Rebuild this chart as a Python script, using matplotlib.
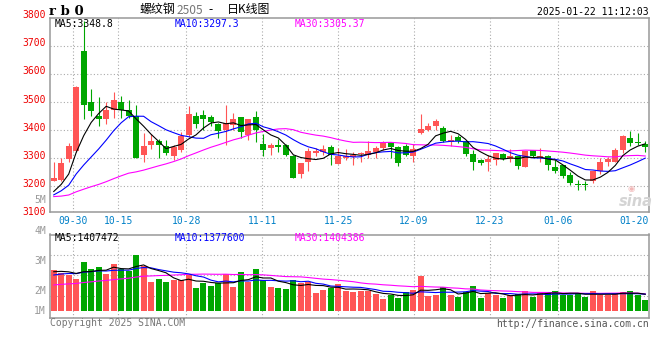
import matplotlib
matplotlib.use("agg")
import matplotlib.pyplot as plt
import matplotlib.transforms as mtransforms
import numpy as np
import pandas as pd

plt.rcParams['font.family'] = ['DejaVu Sans Mono', 'Noto Sans CJK SC']

# closes / volumes before the visible window, only used to warm up the moving averages
prev_close = [3230, 3225, 3215, 3210, 3200, 3195, 3185, 3180, 3170, 3165, 3160, 3155, 3134,
              3120, 3105, 3095, 3100, 3110, 3118, 3128,
              3135, 3145, 3155, 3170, 3180,
              3155, 3160, 3170, 3190]
prev_volume = [1.70, 1.85, 1.60, 1.75, 1.80, 1.65, 1.70, 1.90, 1.72, 1.68, 1.75, 1.66, 1.75,
               1.80, 1.95, 1.75, 1.85, 1.90, 1.84, 1.90,
               2.40, 2.60, 2.85, 2.90, 3.10,
               3.10, 3.25, 3.40, 3.42]

# daily candles 2024-09-25 .. 2025-01-22
opens = [3220, 3223, 3298, 3324, 3684, 3500, 3452, 3441, 3473, 3500,
         3473, 3452, 3312, 3348, 3360, 3345, 3306, 3330, 3381, 3452,
         3455, 3448, 3422, 3402, 3420, 3448, 3381, 3448, 3352, 3336,
         3348, 3348, 3306, 3243, 3286, 3318, 3322, 3340, 3279, 3302,
         3303, 3315, 3310, 3321, 3336, 3356, 3339, 3345, 3306, 3391,
         3402, 3414, 3408, 3356, 3374, 3362, 3315, 3292, 3286, 3292,
         3315, 3298, 3309, 3267, 3330, 3305, 3309, 3267, 3274, 3241,
         3208, 3208, 3217, 3253, 3286, 3288, 3330, 3372, 3358, 3350]
highs = [3288, 3300, 3354, 3557, 3790, 3548, 3517, 3500, 3537, 3521,
         3506, 3491, 3390, 3386, 3370, 3366, 3348, 3393, 3485, 3464,
         3473, 3455, 3426, 3489, 3461, 3448, 3441, 3470, 3386, 3354,
         3368, 3351, 3312, 3282, 3336, 3336, 3348, 3348, 3336, 3334,
         3322, 3322, 3360, 3342, 3362, 3356, 3342, 3351, 3351, 3459,
         3426, 3441, 3416, 3384, 3384, 3366, 3330, 3298, 3312, 3318,
         3318, 3334, 3309, 3324, 3330, 3336, 3312, 3294, 3277, 3250,
         3223, 3219, 3253, 3300, 3303, 3336, 3381, 3396, 3390, 3360]
lows = [3217, 3217, 3288, 3322, 3438, 3450, 3414, 3422, 3443, 3443,
        3443, 3300, 3285, 3334, 3300, 3310, 3292, 3322, 3374, 3408,
        3402, 3416, 3372, 3346, 3402, 3372, 3366, 3356, 3306, 3310,
        3322, 3306, 3229, 3229, 3255, 3306, 3312, 3274, 3279, 3295,
        3274, 3286, 3300, 3300, 3330, 3300, 3271, 3309, 3288, 3386,
        3396, 3402, 3356, 3342, 3354, 3306, 3259, 3274, 3255, 3274,
        3294, 3288, 3262, 3267, 3303, 3286, 3259, 3247, 3229, 3205,
        3185, 3187, 3211, 3244, 3271, 3286, 3318, 3342, 3346, 3322]
closes = [3231, 3282, 3344, 3555, 3489, 3467, 3441, 3473, 3506, 3473,
          3449, 3300, 3342, 3362, 3348, 3318, 3339, 3378, 3458, 3422,
          3441, 3429, 3396, 3426, 3438, 3393, 3441, 3402, 3330, 3348,
          3339, 3312, 3231, 3282, 3327, 3324, 3334, 3310, 3306, 3306,
          3312, 3318, 3324, 3336, 3356, 3339, 3282, 3312, 3333, 3405,
          3416, 3432, 3360, 3366, 3362, 3315, 3288, 3282, 3297, 3318,
          3298, 3309, 3271, 3324, 3309, 3307, 3274, 3253, 3237, 3213,
          3205, 3203, 3253, 3288, 3297, 3330, 3378, 3354, 3355, 3339]
# volume, millions of lots
volumes = [3.48, 3.25, 3.05, 2.71, 4.16, 3.56, 3.74, 3.14, 3.99, 3.56,
           3.42, 4.76, 3.82, 2.45, 2.71, 2.45, 2.62, 2.62, 3.05, 1.94,
           2.34, 2.11, 2.34, 3.14, 2.03, 3.31, 2.45, 3.56, 2.62, 2.03,
           1.94, 1.85, 2.62, 2.34, 2.45, 1.54, 1.77, 1.94, 2.28, 1.68,
           1.60, 1.68, 1.68, 1.43, 1.00, 1.34, 1.09, 1.60, 1.77, 2.97,
           1.26, 1.34, 2.03, 1.34, 1.17, 1.60, 2.11, 1.09, 1.51, 1.34,
           1.09, 1.34, 1.43, 1.68, 1.17, 1.51, 1.60, 1.68, 1.34, 1.34,
           1.51, 1.17, 1.68, 1.34, 1.34, 1.51, 1.60, 1.68, 1.34, 0.91]

tick_idx = [3, 9, 18, 28, 38, 48, 58, 67, 77]
tick_labels = ['09-30', '10-15', '10-28', '11-11', '11-25', '12-09', '12-23', '01-06', '01-20']
price_labels = [3800, 3700, 3600, 3500, 3400, 3300, 3200, 3100]
vol_labels = ['5M', '4M', '3M', '2M', '1M']

RED = '#ff5555'
GREEN = '#00a600'
GRID = dict(color='#aaaaaa', linestyle=(0, (1, 2)), linewidth=0.8)


def px(x, y):
    return x / 660, 1 - y / 360


n = len(closes)
x = np.arange(n)
o = np.array(opens)
c = np.array(closes)
up = c >= o
colors = np.where(up, RED, GREEN)

cl = pd.Series(prev_close + closes)
vo = pd.Series(prev_volume + volumes)
k = len(prev_close)
ma_p = {w: cl.rolling(w).mean().to_numpy()[k:] for w in (5, 10, 30)}
ma_v = {w: vo.rolling(w).mean().to_numpy()[k:] for w in (5, 10, 30)}
ma_colors = {5: 'black', 10: '#0000ff', 30: '#ff00ff'}

# sina spaces the date grid over n-1 steps
tick_pos = -0.5 + np.array(tick_idx) * n / (n - 1)

fig = plt.figure(figsize=(6.6, 3.6), dpi=100)
ax = fig.add_axes([50 / 660, 1 - 212.3 / 360, 599 / 660, 194.6 / 360])
axv = fig.add_axes([50 / 660, 1 - 318 / 360, 599 / 660, 83.5 / 360])

for a in (ax, axv):
    a.set_xlim(-0.5, n - 0.5)
    a.set_xticks([])
    a.set_yticks([])
    for s in a.spines.values():
        s.set_color('#999999')
        s.set_linewidth(1.1)
    for t in tick_pos[:-1]:
        a.axvline(t, zorder=0, **GRID)

ax.set_ylim(3107, 3801)
for p in price_labels[1:-1]:
    ax.axhline(p, zorder=0, **GRID)

# candles
ax.vlines(x, lows, highs, colors=colors, linewidth=0.8, zorder=2)
ax.bar(x, np.maximum(np.abs(c - o), 2.5), bottom=np.minimum(o, c), width=0.8,
       color=colors, linewidth=0, zorder=3)
for w in (30, 10, 5):
    ax.plot(x, ma_p[w], color=ma_colors[w], linewidth=0.8, zorder=4)

# volume
axv.set_ylim(-0.624, 6.51)
for v in (4.76, 3.01, 1.26):
    axv.axhline(v, zorder=0, **GRID)
axv.bar(x, volumes, width=0.8, color=colors, linewidth=0, zorder=2)
for w in (30, 10, 5):
    axv.plot(x, ma_v[w], color=ma_colors[w], linewidth=0.8, zorder=3)

# axis labels
ptrans = mtransforms.offset_copy(ax.get_yaxis_transform(), fig=fig, x=-4, y=2.6, units='dots')
for p in price_labels:
    ax.text(0, p, str(p), transform=ptrans, ha='right', va='center',
            color='#ee0000', fontsize=7)
for lab, yy in zip(vol_labels, [200, 230.7, 260.7, 290.7, 310.7]):
    fig.text(*px(46, yy), lab, ha='right', va='center', color='#999999', fontsize=7)

dtrans = mtransforms.offset_copy(ax.get_xaxis_transform(), fig=fig, x=0, y=-8.7, units='dots')
for t, lab in zip(tick_pos, tick_labels):
    ax.text(t, 0, lab, transform=dtrans, ha='center', va='center',
            color='#0080c8', fontsize=7)

# legends
for xx, txt, col in [(55, 'MA5:3348.8', 'black'), (175, 'MA10:3297.3', '#0000ff'),
                     (295, 'MA30:3305.37', '#ff00ff')]:
    fig.text(*px(xx, 24.3), txt, ha='left', va='center', color=col, fontsize=7)
for xx, txt, col in [(55, 'MA5:1407472', 'black'), (175, 'MA10:1377600', '#0000ff'),
                     (295, 'MA30:1404386', '#ff00ff')]:
    fig.text(*px(xx, 238.3), txt, ha='left', va='center', color=col, fontsize=7)

# header
fig.text(*px(49, 11.3), 'r b 0', ha='left', va='center', fontsize=9.5,
         fontweight='bold', family=['DejaVu Serif'])
fig.text(*px(140, 10), '螺纹钢', ha='left', va='center', fontsize=8.6,
         family=['Noto Sans CJK SC', 'DejaVu Sans'])
fig.text(*px(177, 10.5), '2505', ha='left', va='center', fontsize=8.6, color='#777777',
         family=['Noto Sans CJK SC', 'DejaVu Sans'])
fig.text(*px(208, 10), '-', ha='left', va='center', fontsize=8.6,
         family=['Noto Sans CJK SC', 'DejaVu Sans'])
fig.text(*px(227, 10), '日K线图', ha='left', va='center', fontsize=8.6,
         family=['Noto Sans CJK SC', 'DejaVu Sans'])
fig.text(*px(649, 11.7), '2025-01-22 11:12:03', ha='right', va='center', fontsize=7)

# footer
fig.text(*px(50, 323.3), 'Copyright 2025 SINA.COM', ha='left', va='center',
         fontsize=7, color='#777777')
fig.text(*px(649, 324), 'http://finance.sina.com.cn', ha='right', va='center',
         fontsize=7, color='#555555')

# watermark
fig.text(*px(631, 188), '◉', ha='center', va='center', fontsize=6, color='#f2b8b8',
         family=['DejaVu Sans'])
fig.text(*px(636, 202), 'sina', ha='center', va='center', fontsize=10.5, color='#d4d4d4',
         fontweight='bold', fontstyle='italic', family=['DejaVu Sans'])

fig.savefig('out.png', dpi=100)
plt.close(fig)
